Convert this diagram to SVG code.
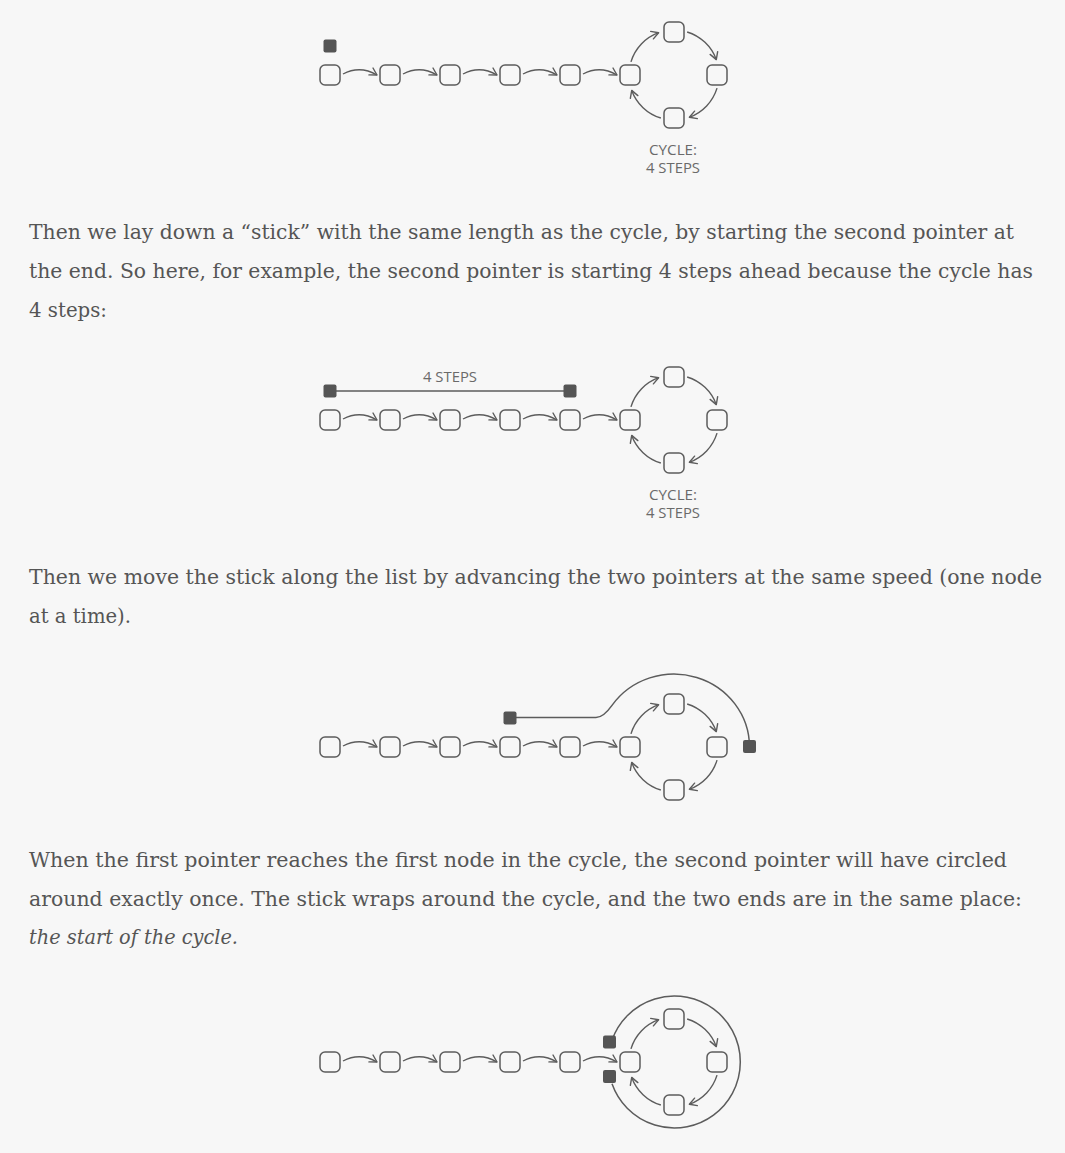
<svg xmlns="http://www.w3.org/2000/svg" xmlns:xlink="http://www.w3.org/1999/xlink" width="1065" height="1153" viewBox="0 0 1065 1153">
<style>
.bg{fill:#f7f7f7}
.node{fill:#f7f7f7;stroke:#5c5c5c;stroke-width:1.5}
.ptr{fill:#555;stroke:none}
.edge{fill:none;stroke:#5c5c5c;stroke-width:1.4;marker-end:url(#ah)}
.stick{fill:none;stroke:#5c5c5c;stroke-width:1.5}
.lbl{font-family:"Open Sans","DejaVu Sans",sans-serif;font-size:14.5px;fill:#6a6a6a;text-anchor:middle}
.p{font-family:"DejaVu Serif","Liberation Serif",serif;font-size:20.5px;fill:#555}
.it{font-style:italic}
</style>
<defs>
<marker id="ah" markerUnits="userSpaceOnUse" markerWidth="12" markerHeight="12" viewBox="-9 -6 12 12" refX="0" refY="0" orient="auto">
<path d="M-7,-4 L0,0 L-7,4" fill="none" stroke="#5c5c5c" stroke-width="1.4" stroke-linecap="round" stroke-linejoin="round"/>
</marker>
</defs>
<rect class="bg" x="0" y="0" width="1065" height="1153"/>

<!-- Diagram 1 -->
<g id="diagram1">
<g id="d1-connectors">
<path class="edge" d="M343,74 Q360,65 377,75"/>
<path class="edge" d="M403,74 Q420,65 437,75"/>
<path class="edge" d="M463,74 Q480,65 497,75"/>
<path class="edge" d="M523,74 Q540,65 557,75"/>
<path class="edge" d="M583,74 Q600,65 617,75"/>
<path class="edge" d="M630.97,61.84 A45,45 0 0 1 658.61,32.71"/>
<path class="edge" d="M687.16,31.97 A45,45 0 0 1 716.29,59.61"/>
<path class="edge" d="M717.03,88.16 A45,45 0 0 1 689.39,117.29"/>
<path class="edge" d="M660.84,118.03 A45,45 0 0 1 631.71,90.39"/>
</g>
<g id="d1-n0"><rect class="node" x="320" y="65" width="20" height="20" rx="5"/></g>
<g id="d1-n1"><rect class="node" x="380" y="65" width="20" height="20" rx="5"/></g>
<g id="d1-n2"><rect class="node" x="440" y="65" width="20" height="20" rx="5"/></g>
<g id="d1-n3"><rect class="node" x="500" y="65" width="20" height="20" rx="5"/></g>
<g id="d1-n4"><rect class="node" x="560" y="65" width="20" height="20" rx="5"/></g>
<g id="d1-n5"><rect class="node" x="620" y="65" width="20" height="20" rx="5"/></g>
<g id="d1-c-top"><rect class="node" x="664" y="22" width="20" height="20" rx="5"/></g>
<g id="d1-c-right"><rect class="node" x="707" y="65" width="20" height="20" rx="5"/></g>
<g id="d1-c-bottom"><rect class="node" x="664" y="108" width="20" height="20" rx="5"/></g>
<g id="d1-ptr"><rect class="ptr" x="323.5" y="39.5" width="13" height="13" rx="2"/></g>
<g id="d1-label"><text class="lbl" x="673" y="154.5" textLength="48" lengthAdjust="spacingAndGlyphs">CYCLE:</text><text class="lbl" x="673" y="172.5" textLength="54" lengthAdjust="spacingAndGlyphs">4 STEPS</text></g>
</g>

<g id="para1">
<text class="p" x="29" y="238.5" textLength="985" lengthAdjust="spacingAndGlyphs">Then we lay down a “stick” with the same length as the cycle, by starting the second pointer at</text>
<text class="p" x="29" y="277.5" textLength="1004" lengthAdjust="spacingAndGlyphs">the end. So here, for example, the second pointer is starting 4 steps ahead because the cycle has</text>
<text class="p" x="29" y="316.5" textLength="78" lengthAdjust="spacingAndGlyphs">4 steps:</text>
</g>

<!-- Diagram 2 -->
<g id="diagram2" transform="translate(0,345)">
<g id="d2-connectors">
<path class="edge" d="M343,74 Q360,65 377,75"/>
<path class="edge" d="M403,74 Q420,65 437,75"/>
<path class="edge" d="M463,74 Q480,65 497,75"/>
<path class="edge" d="M523,74 Q540,65 557,75"/>
<path class="edge" d="M583,74 Q600,65 617,75"/>
<path class="edge" d="M630.97,61.84 A45,45 0 0 1 658.61,32.71"/>
<path class="edge" d="M687.16,31.97 A45,45 0 0 1 716.29,59.61"/>
<path class="edge" d="M717.03,88.16 A45,45 0 0 1 689.39,117.29"/>
<path class="edge" d="M660.84,118.03 A45,45 0 0 1 631.71,90.39"/>
<path class="stick" d="M330,46 H570"/>
</g>
<g id="d2-n0"><rect class="node" x="320" y="65" width="20" height="20" rx="5"/></g>
<g id="d2-n1"><rect class="node" x="380" y="65" width="20" height="20" rx="5"/></g>
<g id="d2-n2"><rect class="node" x="440" y="65" width="20" height="20" rx="5"/></g>
<g id="d2-n3"><rect class="node" x="500" y="65" width="20" height="20" rx="5"/></g>
<g id="d2-n4"><rect class="node" x="560" y="65" width="20" height="20" rx="5"/></g>
<g id="d2-n5"><rect class="node" x="620" y="65" width="20" height="20" rx="5"/></g>
<g id="d2-c-top"><rect class="node" x="664" y="22" width="20" height="20" rx="5"/></g>
<g id="d2-c-right"><rect class="node" x="707" y="65" width="20" height="20" rx="5"/></g>
<g id="d2-c-bottom"><rect class="node" x="664" y="108" width="20" height="20" rx="5"/></g>
<g id="d2-ptr1"><rect class="ptr" x="323.5" y="39.5" width="13" height="13" rx="2"/></g>
<g id="d2-ptr2"><rect class="ptr" x="563.5" y="39.5" width="13" height="13" rx="2"/></g>
<g id="d2-stick-label"><text class="lbl" x="450" y="36.5" textLength="54" lengthAdjust="spacingAndGlyphs">4 STEPS</text></g>
<g id="d2-label"><text class="lbl" x="673" y="154.5" textLength="48" lengthAdjust="spacingAndGlyphs">CYCLE:</text><text class="lbl" x="673" y="172.5" textLength="54" lengthAdjust="spacingAndGlyphs">4 STEPS</text></g>
</g>

<g id="para2">
<text class="p" x="29" y="583.5" textLength="1013" lengthAdjust="spacingAndGlyphs">Then we move the stick along the list by advancing the two pointers at the same speed (one node</text>
<text class="p" x="29" y="622.5" textLength="102" lengthAdjust="spacingAndGlyphs">at a time).</text>
</g>

<!-- Diagram 3 -->
<g id="diagram3" transform="translate(0,672)">
<g id="d3-connectors">
<path class="edge" d="M343,74 Q360,65 377,75"/>
<path class="edge" d="M403,74 Q420,65 437,75"/>
<path class="edge" d="M463,74 Q480,65 497,75"/>
<path class="edge" d="M523,74 Q540,65 557,75"/>
<path class="edge" d="M583,74 Q600,65 617,75"/>
<path class="edge" d="M630.97,61.84 A45,45 0 0 1 658.61,32.71"/>
<path class="edge" d="M687.16,31.97 A45,45 0 0 1 716.29,59.61"/>
<path class="edge" d="M717.03,88.16 A45,45 0 0 1 689.39,117.29"/>
<path class="edge" d="M660.84,118.03 A45,45 0 0 1 631.71,90.39"/>
<path class="stick" d="M510,45.5 H596 C603,45.5 608.7,38 612.2,33.1 A75.5,73 0 0 1 749.5,75"/>
</g>
<g id="d3-n0"><rect class="node" x="320" y="65" width="20" height="20" rx="5"/></g>
<g id="d3-n1"><rect class="node" x="380" y="65" width="20" height="20" rx="5"/></g>
<g id="d3-n2"><rect class="node" x="440" y="65" width="20" height="20" rx="5"/></g>
<g id="d3-n3"><rect class="node" x="500" y="65" width="20" height="20" rx="5"/></g>
<g id="d3-n4"><rect class="node" x="560" y="65" width="20" height="20" rx="5"/></g>
<g id="d3-n5"><rect class="node" x="620" y="65" width="20" height="20" rx="5"/></g>
<g id="d3-c-top"><rect class="node" x="664" y="22" width="20" height="20" rx="5"/></g>
<g id="d3-c-right"><rect class="node" x="707" y="65" width="20" height="20" rx="5"/></g>
<g id="d3-c-bottom"><rect class="node" x="664" y="108" width="20" height="20" rx="5"/></g>
<g id="d3-ptr1"><rect class="ptr" x="503.5" y="39.5" width="13" height="13" rx="2"/></g>
<g id="d3-ptr2"><rect class="ptr" x="743" y="68" width="13" height="13" rx="2"/></g>
</g>

<g id="para3">
<text class="p" x="29" y="866.5" textLength="978" lengthAdjust="spacingAndGlyphs">When the first pointer reaches the first node in the cycle, the second pointer will have circled</text>
<text class="p" x="29" y="905.5" textLength="993" lengthAdjust="spacingAndGlyphs">around exactly once. The stick wraps around the cycle, and the two ends are in the same place:</text>
<text class="p it" x="29" y="944" textLength="209" lengthAdjust="spacingAndGlyphs">the start of the cycle.</text>
</g>

<!-- Diagram 4 -->
<g id="diagram4" transform="translate(0,987)">
<g id="d4-connectors">
<path class="edge" d="M343,74 Q360,65 377,75"/>
<path class="edge" d="M403,74 Q420,65 437,75"/>
<path class="edge" d="M463,74 Q480,65 497,75"/>
<path class="edge" d="M523,74 Q540,65 557,75"/>
<path class="edge" d="M583,74 Q600,65 617,75"/>
<path class="edge" d="M630.97,61.84 A45,45 0 0 1 658.61,32.71"/>
<path class="edge" d="M687.16,31.97 A45,45 0 0 1 716.29,59.61"/>
<path class="edge" d="M717.03,88.16 A45,45 0 0 1 689.39,117.29"/>
<path class="edge" d="M660.84,118.03 A45,45 0 0 1 631.71,90.39"/>
<path class="stick" d="M612,53.2 A66,66 0 1 1 612,96.8"/>
</g>
<g id="d4-n0"><rect class="node" x="320" y="65" width="20" height="20" rx="5"/></g>
<g id="d4-n1"><rect class="node" x="380" y="65" width="20" height="20" rx="5"/></g>
<g id="d4-n2"><rect class="node" x="440" y="65" width="20" height="20" rx="5"/></g>
<g id="d4-n3"><rect class="node" x="500" y="65" width="20" height="20" rx="5"/></g>
<g id="d4-n4"><rect class="node" x="560" y="65" width="20" height="20" rx="5"/></g>
<g id="d4-n5"><rect class="node" x="620" y="65" width="20" height="20" rx="5"/></g>
<g id="d4-c-top"><rect class="node" x="664" y="22" width="20" height="20" rx="5"/></g>
<g id="d4-c-right"><rect class="node" x="707" y="65" width="20" height="20" rx="5"/></g>
<g id="d4-c-bottom"><rect class="node" x="664" y="108" width="20" height="20" rx="5"/></g>
<g id="d4-ptr1"><rect class="ptr" x="603" y="48.5" width="13" height="13" rx="2"/></g>
<g id="d4-ptr2"><rect class="ptr" x="603" y="83" width="13" height="13" rx="2"/></g>
</g>
</svg>
